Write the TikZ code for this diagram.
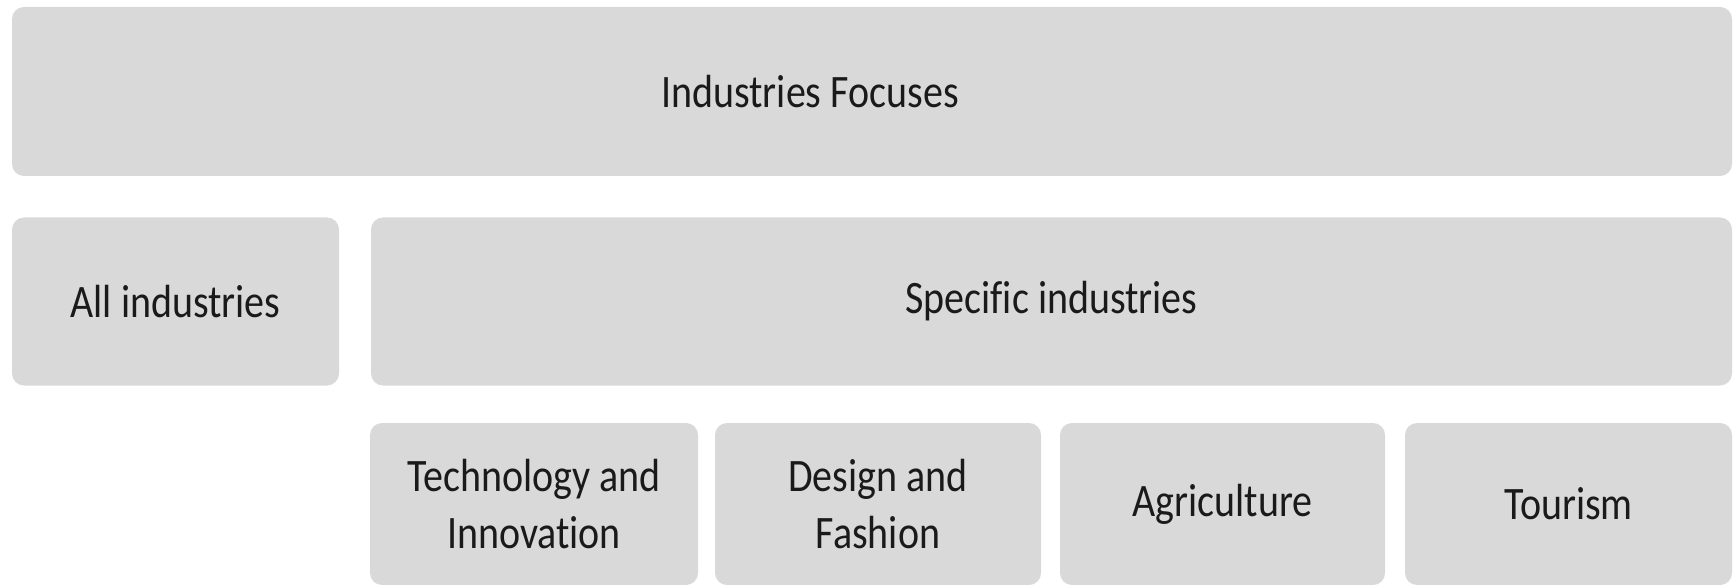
\documentclass[tikz,border=0pt]{standalone}
\usepackage{fontspec}
\setmainfont{Carlito}[FakeStretch=0.86, Ligatures={NoCommon}]
\usetikzlibrary{positioning}

\definecolor{boxgray}{HTML}{D9D9D9}
\definecolor{textdark}{HTML}{1A1A1A}

\tikzset{
    catbox/.style={fill=boxgray, draw=none, rounded corners=12pt, inner sep=0pt,
                   text=textdark, align=center,
                   font=\fontsize{46.5}{57}\selectfont},
    cattext/.style={text=textdark, align=center, inner sep=0pt,
                    font=\fontsize{46.5}{57}\selectfont}
}

\begin{document}
\begin{tikzpicture}[x=1pt, y=-1pt]
            \useasboundingbox (0, 0) rectangle (1735, 585);
            % top level
            \node[catbox, minimum width=1720pt, minimum height=169pt] (focus) at (872, 91.5) {};
            \node[cattext] (focustext) at ([xshift=-62pt]focus.center) {Industries Focuses};
            % second level
            \node[catbox, minimum width=327pt, minimum height=168pt] (all) at (175.5, 301.5) {All industries};
            \node[catbox, minimum width=1361pt, minimum height=168pt] (specific) at (1051.5, 301.5) {Specific industries};
            % third level
            \node[catbox, minimum width=328pt, minimum height=162pt] (tech) at (534, 504) {Technology and\\Innovation};
            \node[catbox, minimum width=326pt, minimum height=162pt] (design) at (878, 504) {Design and\\Fashion};
            \node[catbox, minimum width=325pt, minimum height=162pt] (agri) at (1222.5, 504) {Agriculture};
            \node[catbox, minimum width=327pt, minimum height=162pt] (tourism) at (1568.5, 504) {Tourism};
        \end{tikzpicture}
\end{document}
